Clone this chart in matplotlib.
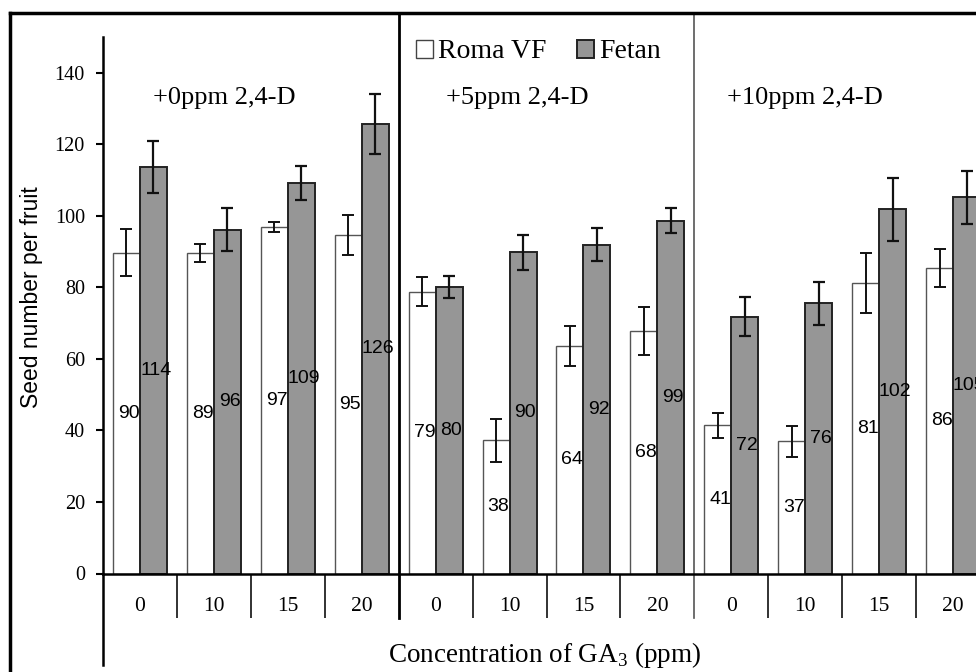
import numpy as np
import matplotlib
matplotlib.use("Agg")
import matplotlib.pyplot as plt
from matplotlib.patches import Patch
from matplotlib.lines import Line2D
import matplotlib.transforms as mtransforms

plt.rcParams['mathtext.fontset'] = 'custom'
plt.rcParams['mathtext.rm'] = 'Liberation Serif'

SERIF = 'Liberation Serif'
SANS = 'Liberation Sans'

# data
ga3_levels = ["0", "10", "15", "20"] * 3
group_titles = ["+0ppm 2,4-D", "+5ppm 2,4-D", "+10ppm 2,4-D"]
series_names = ["Roma VF", "Fetan"]

roma = [89.7, 89.7, 97.0, 94.8, 78.8, 37.3, 63.7, 67.8, 41.4, 37.0, 81.3, 85.5]
roma_err = [6.6, 2.5, 1.4, 5.6, 4.1, 6.0, 5.6, 6.6, 3.4, 4.3, 8.4, 5.4]
roma_lbl = [90, 89, 97, 95, 79, 38, 64, 68, 41, 37, 81, 86]

fetan = [113.8, 96.1, 109.3, 125.7, 80.1, 89.9, 92.0, 98.7, 71.8, 75.6, 101.9, 105.2]
fetan_err = [7.3, 6.0, 4.8, 8.5, 3.0, 4.9, 4.5, 3.5, 5.5, 6.0, 8.8, 7.4]
fetan_lbl = [114, 96, 109, 126, 80, 90, 92, 99, 72, 76, 102, 105]

fig = plt.figure(figsize=(9.76, 6.72), dpi=100)
W, H = 976.0, 672.0
ax = fig.add_axes([103 / W, (H - 573.5) / H, 887 / W, 536.3 / H])

n = len(ga3_levels)
centers = np.arange(n) + 0.5
bw = 0.365

ax.bar(centers - bw / 2, roma, bw, color='white', edgecolor='#555555', linewidth=1.0, zorder=2)
ax.bar(centers + bw / 2, fetan, bw, color='#969696', edgecolor='#222222', linewidth=1.4, zorder=2)
ax.errorbar(centers - bw / 2, roma, yerr=roma_err, fmt='none', ecolor='#111111',
            elinewidth=1.4, capsize=4.5, capthick=1.4, zorder=3)
ax.errorbar(centers + bw / 2, fetan, yerr=fetan_err, fmt='none', ecolor='#111111',
            elinewidth=1.6, capsize=4.5, capthick=1.6, zorder=3)

for i in range(n):
    ax.text(centers[i] - bw / 2 + 0.03, roma[i] / 2, str(roma_lbl[i]), ha='center', va='center',
            fontsize=14, family=SANS, zorder=4)
    ax.text(centers[i] + bw / 2 + 0.03, fetan[i] / 2, str(fetan_lbl[i]), ha='center', va='center',
            fontsize=14, family=SANS, zorder=4)

ax.set_xlim(0, n)
ax.set_ylim(0, 150)

ax.spines['top'].set_visible(False)
ax.spines['right'].set_visible(False)
ax.spines['left'].set_linewidth(1.8)
ax.spines['bottom'].set_linewidth(1.8)

ax.set_yticks(np.arange(0, 141, 20))
ax.tick_params(axis='y', length=5, width=1.5, pad=8, labelsize=14.5)
for t in ax.get_yticklabels():
    t.set_family(SERIF)

# category boundaries as long ticks, labels at the centres
ax.set_xticks([b for b in range(1, n) if b % 4 != 0])
ax.set_xticklabels([])
ax.tick_params(axis='x', which='major', length=32, width=1.3, direction='out', color='#222222')
ax.set_xticks(centers, minor=True)
ax.set_xticklabels(ga3_levels, minor=True, family=SERIF, fontsize=15.5)
ax.tick_params(axis='x', which='minor', length=0, pad=17)

trans = mtransforms.blended_transform_factory(ax.transData, ax.transAxes)
y_low = (573.5 - 618) / 536.3
y_top = (573.5 - 13) / 536.3
ax.plot([0, 0], [0, (573.5 - 665) / 536.3], transform=trans, color='black', lw=1.8, clip_on=False)
ax.plot([4, 4], [y_low, y_top], transform=trans, color='black', lw=2.0, clip_on=False)
ax.plot([8, 8], [y_low, y_top], transform=trans, color='#555555', lw=1.2, clip_on=False)

title_x = [1.64, 5.61, 9.49]
for tx, tt in zip(title_x, group_titles):
    ax.text(tx, 133, tt, ha='center', va='center', fontsize=19, family=SERIF)

ax.set_ylabel("Seed number per fruit", family=SANS, fontsize=16.5)
ax.yaxis.set_label_coords(-0.068, 0.515)
ax.set_xlabel("Concentration of GA$_\\mathregular{3}$ (ppm)", family=SERIF, fontsize=19.5, va='baseline')
ax.xaxis.set_label_coords((545 - 103) / 887, (573.5 - 662) / 536.3)

handles = [Patch(facecolor='white', edgecolor='#444444', linewidth=1.0),
           Patch(facecolor='#969696', edgecolor='#222222', linewidth=1.4)]
fig.legend(handles, series_names, loc='center left', bbox_to_anchor=(391 / W, 1 - 52 / H),
           ncol=2, frameon=False, handlelength=0.6, handleheight=0.6, handletextpad=0.2,
           columnspacing=1.1, prop={'family': SERIF, 'size': 20})

# outer frame (left and top edges visible in the crop)
fig.add_artist(Line2D([10 / W, 10 / W], [0, 1 - 13 / H], color='black', lw=2.5))
fig.add_artist(Line2D([10 / W, 1], [1 - 13 / H, 1 - 13 / H], color='black', lw=2.5))

fig.savefig("out.png", dpi=100)
